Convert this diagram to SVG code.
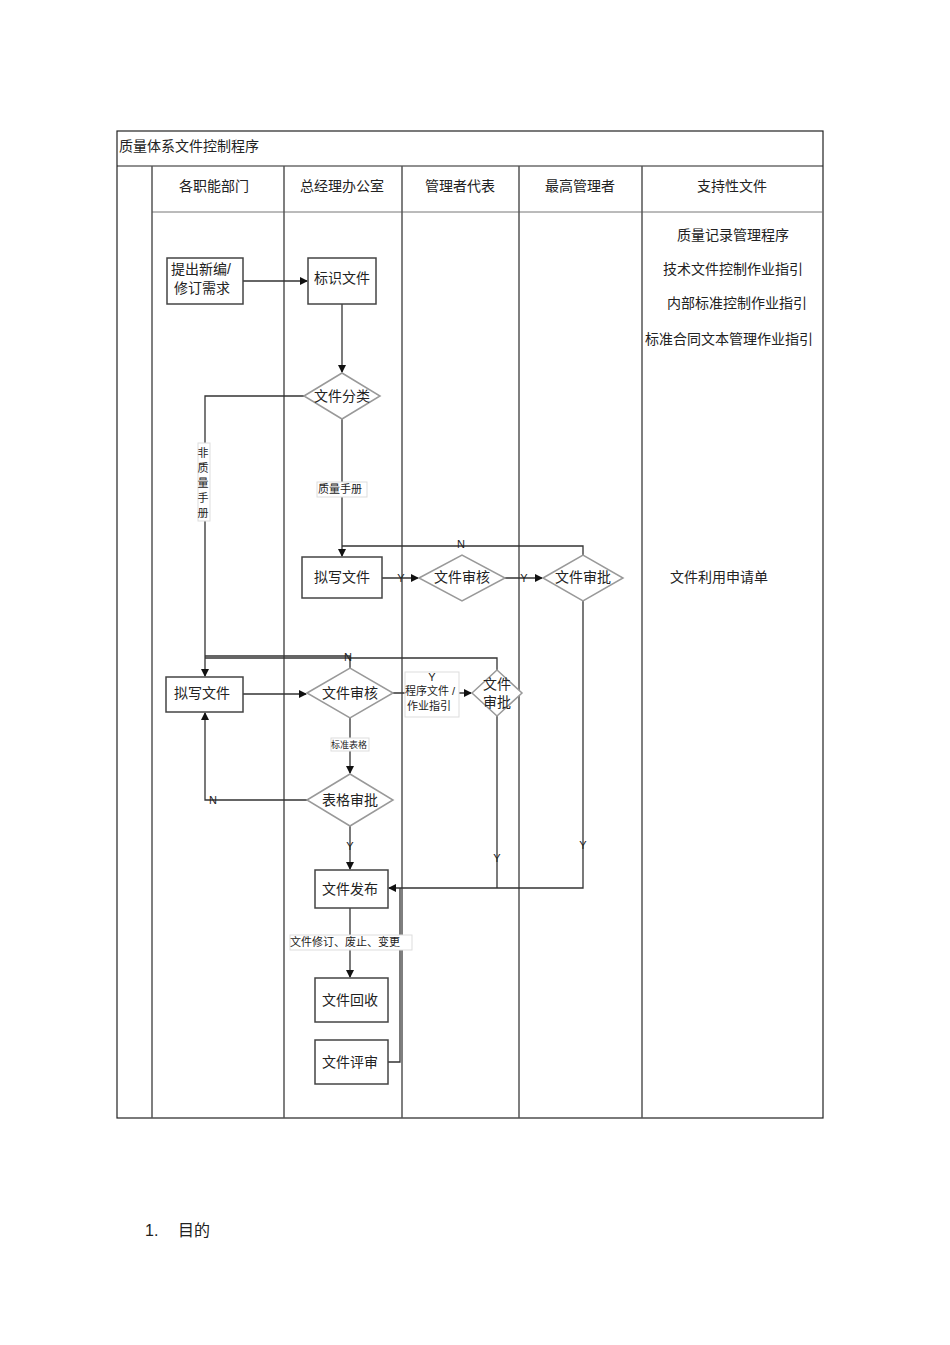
<svg xmlns="http://www.w3.org/2000/svg" width="950" height="1345" viewBox="0 0 950 1345">
<defs>
<marker id="a" markerWidth="8" markerHeight="8" refX="7" refY="4" orient="auto" markerUnits="userSpaceOnUse"><path d="M0,0 L8,4 L0,8 z" fill="#111"/></marker>
<style>
text{font-family:"Liberation Sans","Noto Sans CJK SC",sans-serif;fill:#222}
.t{font-size:14px}.s{font-size:11px}.m{font-size:14px;text-anchor:middle}
.g{stroke:#555;stroke-width:1.5;fill:none}
.r{fill:#fff;stroke:#444;stroke-width:1.5}
.d{fill:#fff;stroke:#999;stroke-width:1.5}
.c{stroke:#333;stroke-width:1.3;fill:none}
.lb{fill:#fff;stroke:#ddd;stroke-width:1}
</style>
</defs>
<rect width="950" height="1345" fill="#fff"/>
<g id="table">
<rect x="117" y="131" width="706" height="987" fill="none" stroke="#222" stroke-width="1.2"/>
<line x1="117" y1="166" x2="823" y2="166" stroke="#222" stroke-width="1.2"/>
<line x1="152" y1="212" x2="823" y2="212" stroke="#777"/>
<line x1="152" y1="166" x2="152" y2="1118" class="g"/>
<line x1="284" y1="166" x2="284" y2="1118" class="g"/>
<line x1="402" y1="166" x2="402" y2="1118" class="g"/>
<line x1="519" y1="166" x2="519" y2="1118" class="g"/>
<line x1="642" y1="166" x2="642" y2="1118" class="g"/>
<text x="119" y="151" class="t">质量体系文件控制程序</text>
<text x="214" y="191" class="m">各职能部门</text>
<text x="342" y="191" class="m">总经理办公室</text>
<text x="460" y="191" class="m">管理者代表</text>
<text x="580" y="191" class="m">最高管理者</text>
<text x="732" y="191" class="m">支持性文件</text>
<text x="733" y="240" class="m">质量记录管理程序</text>
<text x="733" y="274" class="m">技术文件控制作业指引</text>
<text x="737" y="308" class="m">内部标准控制作业指引</text>
<text x="729" y="344" class="m">标准合同文本管理作业指引</text>
<text x="719" y="582" class="m">文件利用申请单</text>
</g>
<g id="connectors">
<path class="c" d="M243,281 H307" marker-end="url(#a)"/>
<path class="c" d="M342,304 V372" marker-end="url(#a)"/>
<path class="c" d="M304,396 H205 V676" marker-end="url(#a)"/>
<path class="c" d="M342,419 V556" marker-end="url(#a)"/>
<path class="c" d="M382,578 H418" marker-end="url(#a)"/>
<path class="c" d="M505,578 H542" marker-end="url(#a)"/>
<path class="c" d="M583,555 V546 H342"/>
<path class="c" d="M583,601 V888 H389" marker-end="url(#a)"/>
<path class="c" d="M243,694 H306" marker-end="url(#a)"/>
<path class="c" d="M393,693 H471" marker-end="url(#a)"/>
<path class="c" d="M497,670 V658 H205"/>
<path class="c" d="M205,656 H350 V668"/>
<path class="c" d="M497,716 V888"/>
<path class="c" d="M350,718 V773" marker-end="url(#a)"/>
<path class="c" d="M307,800 H205 V713" marker-end="url(#a)"/>
<path class="c" d="M350,826 V869" marker-end="url(#a)"/>
<path class="c" d="M350,908 V977" marker-end="url(#a)"/>
<path class="c" d="M388,1062 H400 V888"/>
<rect x="198" y="443" width="12" height="78" class="lb"/>
<text x="203" y="457" class="s" text-anchor="middle">非</text>
<text x="203" y="472" class="s" text-anchor="middle">质</text>
<text x="203" y="487" class="s" text-anchor="middle">量</text>
<text x="203" y="502" class="s" text-anchor="middle">手</text>
<text x="203" y="517" class="s" text-anchor="middle">册</text>
<rect x="317" y="482" width="50" height="15" class="lb"/>
<text x="318" y="493" class="s">质量手册</text>
<text x="461" y="548" class="s" text-anchor="middle">N</text>
<text x="401" y="582" class="s" text-anchor="middle">Y</text>
<text x="524" y="582" class="s" text-anchor="middle">Y</text>
<text x="348" y="661" class="s" text-anchor="middle">N</text>
<rect x="405" y="672" width="54" height="45" class="lb"/>
<text x="432" y="681" class="s" text-anchor="middle">Y</text>
<text x="405" y="695" class="s">程序文件 /</text>
<text x="407" y="710" class="s">作业指引</text>
<rect x="331" y="738" width="38" height="13" fill="#fff" stroke="#ddd"/>
<text x="331" y="748" font-size="9">标准表格</text>
<text x="213" y="804" class="s" text-anchor="middle">N</text>
<text x="350" y="850" class="s" text-anchor="middle">Y</text>
<text x="497" y="862" class="s" text-anchor="middle">Y</text>
<text x="583" y="849" class="s" text-anchor="middle">Y</text>
<rect x="290" y="935" width="122" height="15" class="lb"/>
<text x="290" y="946" class="s">文件修订、废止、变更</text>
</g>
<g id="n1"><rect x="167" y="258" width="76" height="46" class="r"/><text x="171" y="274" class="t">提出新编/</text><text x="174" y="293" class="t">修订需求</text></g>
<g id="n2"><rect x="308" y="258" width="68" height="46" class="r"/><text x="342" y="283" class="m">标识文件</text></g>
<g id="n3"><path d="M304,396 L342,373 L380,396 L342,419 Z" class="d"/><text x="342" y="401" class="m">文件分类</text></g>
<g id="n4"><rect x="302" y="557" width="80" height="41" class="r"/><text x="342" y="582" class="m">拟写文件</text></g>
<g id="n5"><path d="M419,578 L462,555 L505,578 L462,601 Z" class="d"/><text x="462" y="582" class="m">文件审核</text></g>
<g id="n6"><path d="M543,578 L583,555 L623,578 L583,601 Z" class="d"/><text x="583" y="582" class="m">文件审批</text></g>
<g id="n7"><rect x="166" y="677" width="77" height="35" class="r"/><text x="202" y="698" class="m">拟写文件</text></g>
<g id="n8"><path d="M307,693 L350,668 L393,693 L350,718 Z" class="d"/><text x="350" y="698" class="m">文件审核</text></g>
<g id="n9"><path d="M472,693 L497,670 L522,693 L497,716 Z" class="d"/><text x="497" y="689" class="m">文件</text><text x="497" y="707" class="m">审批</text></g>
<g id="n10"><path d="M307,800 L350,774 L393,800 L350,826 Z" class="d"/><text x="350" y="805" class="m">表格审批</text></g>
<g id="n11"><rect x="315" y="870" width="73" height="38" class="r"/><text x="350" y="894" class="m">文件发布</text></g>
<g id="n12"><rect x="315" y="978" width="73" height="44" class="r"/><text x="350" y="1005" class="m">文件回收</text></g>
<g id="n13"><rect x="315" y="1040" width="73" height="44" class="r"/><text x="350" y="1067" class="m">文件评审</text></g>
<text x="145" y="1236" font-size="16">1.</text>
<text x="178" y="1236" font-size="16">目的</text>
</svg>
